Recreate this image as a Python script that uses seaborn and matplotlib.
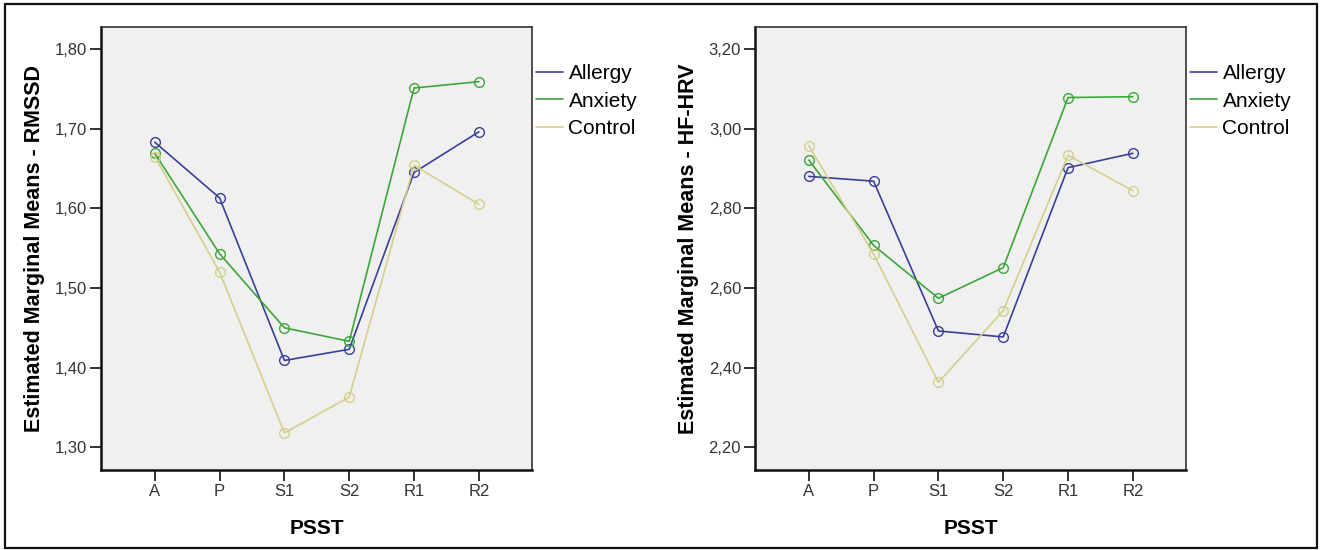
import numpy as np
import pandas as pd
import seaborn as sns
import matplotlib.pyplot as plt
from matplotlib.lines import Line2D
from matplotlib.patches import Rectangle

# PSST phases and groups
phases = ["A", "P", "S1", "S2", "R1", "R2"]
groups = ["Allergy", "Anxiety", "Control"]

# estimated marginal means, RMSSD (log)
rmssd_allergy = [1.683, 1.613, 1.409, 1.423, 1.645, 1.696]
rmssd_anxiety = [1.669, 1.543, 1.450, 1.433, 1.751, 1.759]
rmssd_control = [1.665, 1.520, 1.318, 1.363, 1.654, 1.605]

# estimated marginal means, HF-HRV (log)
hf_allergy = [2.880, 2.868, 2.492, 2.477, 2.902, 2.938]
hf_anxiety = [2.921, 2.707, 2.574, 2.651, 3.078, 3.080]
hf_control = [2.957, 2.685, 2.363, 2.543, 2.933, 2.844]

rmssd_ticks = [1.30, 1.40, 1.50, 1.60, 1.70, 1.80]
hf_ticks = [2.20, 2.40, 2.60, 2.80, 3.00, 3.20]

colors = {"Allergy": "#3a3f98", "Anxiety": "#3da638", "Control": "#d5cf8c"}

sns.set_style("white")
plt.rcParams['font.family'] = ['Liberation Sans', 'DejaVu Sans']
plt.rcParams['text.color'] = 'black'
plt.rcParams['axes.labelcolor'] = 'black'


def long_frame(series):
    rows = []
    for g, vals in zip(groups, series):
        for i, v in enumerate(vals):
            rows.append({"pos": i, "phase": phases[i], "group": g, "value": v})
    return pd.DataFrame(rows)


def draw_panel(ax, df, ticks, ylabel, ylim):
    sns.lineplot(data=df, x="pos", y="value", hue="group", hue_order=groups,
                 palette=colors, marker="o", markersize=7, linewidth=1.2,
                 legend=False, ax=ax)
    for ln in ax.lines:
        ln.set_markerfacecolor("none")
        ln.set_markeredgecolor(ln.get_color())
        ln.set_markeredgewidth(1.0)
    ax.set_facecolor("#f0f0f0")
    ax.set_xlim(-0.83, 5.82)
    ax.set_ylim(*ylim)
    ax.set_xticks(range(len(phases)))
    ax.set_xticklabels(phases)
    ax.set_yticks(ticks)
    ax.set_yticklabels([f"{t:.2f}".replace(".", ",") for t in ticks])
    ax.tick_params(axis="both", which="both", direction="out", length=8,
                   width=1.3, color="#222222", labelsize=12, pad=2,
                   labelcolor="#333333", left=True, bottom=True)
    for side in ["left", "bottom"]:
        ax.spines[side].set_linewidth(1.8)
        ax.spines[side].set_color("#111111")
    for side in ["top", "right"]:
        ax.spines[side].set_linewidth(1.2)
        ax.spines[side].set_color("#333333")
    ax.set_xlabel("PSST", fontsize=15, fontweight="bold")
    ax.xaxis.set_label_coords(0.5, -0.11)
    ax.set_ylabel(ylabel, fontsize=15.5, fontweight="bold")
    ax.yaxis.set_label_coords(-0.13, 0.5)
    handles = [Line2D([0], [0], color=colors[g], lw=1.2) for g in groups]
    ax.legend(handles, groups, loc="upper left", bbox_to_anchor=(1.0, 0.926),
              frameon=False, fontsize=15, handlelength=1.3, handletextpad=0.25,
              labelspacing=0.42, borderaxespad=0, borderpad=0.2)


fig = plt.figure(figsize=(13.2, 5.5), dpi=100)
ax1 = fig.add_axes([101 / 1320, 1 - 470 / 550, 431 / 1320, 443 / 550])
ax2 = fig.add_axes([755 / 1320, 1 - 470 / 550, 431 / 1320, 443 / 550])

draw_panel(ax1, long_frame([rmssd_allergy, rmssd_anxiety, rmssd_control]),
           rmssd_ticks, "Estimated Marginal Means - RMSSD", (1.2715, 1.8276))
draw_panel(ax2, long_frame([hf_allergy, hf_anxiety, hf_control]),
           hf_ticks, "Estimated Marginal Means - HF-HRV", (2.143, 3.255))

# outer frame
fig.patches.append(Rectangle((5 / 1320, 2 / 550), 1312 / 1320, 544 / 550,
                             transform=fig.transFigure, fill=False,
                             edgecolor="#111111", linewidth=1.6))

fig.savefig("out.png", dpi=100)
